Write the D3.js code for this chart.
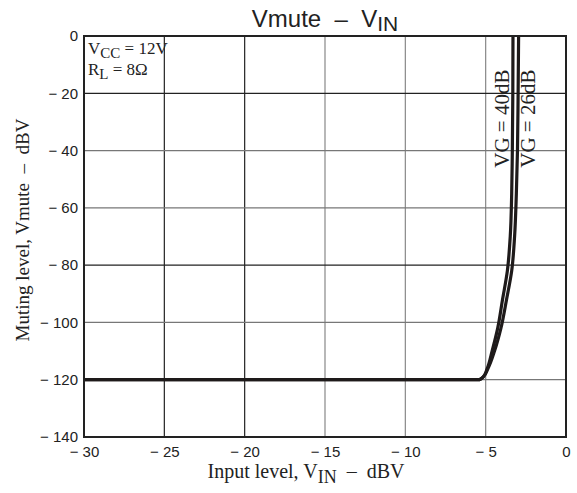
<!DOCTYPE html>
<html>
<head>
<meta charset="utf-8">
<script src="https://cdn.jsdelivr.net/npm/d3@7"></script>
<style>
body { margin: 0; background: #fff; }
svg { display: block; }
text { white-space: pre; }
</style>
</head>
<body>
<svg id="chart" width="577" height="493"></svg>
<script>
(function(){

	// input level (dBV) and muting level (dBV)
	var vin40 = [-30, -5.4, -5.15, -4.9, -4.6, -4.25, -3.95, -3.65, -3.47, -3.38, -3.34, -3.31, -3.3];
	var vmute40 = [-120, -120, -119, -116, -110, -102, -92, -82, -70, -55, -40, -20, 0];
	var vin26 = [-30, -5.4, -5.15, -4.85, -4.45, -4.05, -3.7, -3.38, -3.2, -3.09, -3.02, -2.98, -2.95];
	var vmute26 = [-120, -120, -119, -116, -110, -102, -92, -82, -70, -55, -40, -20, 0];

	var xTicks = [-30, -25, -20, -15, -10, -5, 0];
	var yTicks = [0, -20, -40, -60, -80, -100, -120, -140];
	var darkX = [-25, -20];
	var darkY = [-20, -80];

	var margin = {top: 36, right: 11, bottom: 56, left: 84};
	var svg = d3.select("#chart");
	var width = +svg.attr("width") - margin.left - margin.right;
	var height = +svg.attr("height") - margin.top - margin.bottom;

	var x = d3.scaleLinear().domain([-30, 0]).range([0, width]);
	var y = d3.scaleLinear().domain([-140, 0]).range([height, 0]);

	var g = svg.append("g")
		.attr("transform", "translate(" + margin.left + "," + margin.top + ")");

	var fmt = function(d){
		return d < 0 ? "\u2212 " + Math.abs(d) : "" + d;
	};

	// grid
	g.selectAll(".vgrid")
		.data(xTicks.slice(1, -1))
		.enter().append("line")
			.attr("x1", function(d){ return x(d); })
			.attr("x2", function(d){ return x(d); })
			.attr("y1", 0)
			.attr("y2", height)
			.attr("stroke", function(d){ return darkX.indexOf(d) >= 0 ? "#222" : "#888"; })
			.attr("stroke-width", 1.2);

	g.selectAll(".hgrid")
		.data(yTicks.slice(1, -1))
		.enter().append("line")
			.attr("x1", 0)
			.attr("x2", width)
			.attr("y1", function(d){ return y(d); })
			.attr("y2", function(d){ return y(d); })
			.attr("stroke", function(d){ return darkY.indexOf(d) >= 0 ? "#222" : "#777"; })
			.attr("stroke-width", 1.2);

	// axes (labels only, frame drawn below)
	var xAxis = g.append("g")
		.attr("transform", "translate(0," + height + ")")
		.call(d3.axisBottom(x).tickValues(xTicks).tickSize(0).tickPadding(9).tickFormat(fmt));
	var yAxis = g.append("g")
		.call(d3.axisLeft(y).tickValues(yTicks).tickSize(0).tickPadding(6).tickFormat(fmt));
	[xAxis, yAxis].forEach(function(a){
		a.select(".domain").remove();
		a.selectAll("text")
			.attr("font-family", "'Liberation Sans', Arial, sans-serif")
			.attr("font-size", 15)
			.attr("fill", "#222");
	});

	// curves
	var line = d3.line()
		.x(function(d){ return x(d[0]); })
		.y(function(d){ return y(d[1]); })
		.curve(d3.curveMonotoneY);

	var series = [d3.zip(vin40, vmute40), d3.zip(vin26, vmute26)];
	g.selectAll(".curve")
		.data(series)
		.enter().append("path")
			.attr("d", line)
			.attr("fill", "none")
			.attr("stroke", "#1e1a1a")
			.attr("stroke-width", 3.2)
			.attr("stroke-linejoin", "round");

	// frame
	g.append("rect")
		.attr("width", width)
		.attr("height", height)
		.attr("fill", "none")
		.attr("stroke", "#222")
		.attr("stroke-width", 2);

	var serif = "'Liberation Serif', 'Times New Roman', serif";

	// conditions
	var vcc = g.append("text")
		.attr("x", 4).attr("y", 18)
		.attr("font-family", serif).attr("font-size", 17).attr("fill", "#222");
	vcc.append("tspan").text("V");
	vcc.append("tspan").attr("dy", 4).attr("font-size", 15).text("CC");
	vcc.append("tspan").attr("dy", -4).text(" = 12V");

	var rl = g.append("text")
		.attr("x", 4).attr("y", 39)
		.attr("font-family", serif).attr("font-size", 17).attr("fill", "#222");
	rl.append("tspan").text("R");
	rl.append("tspan").attr("dy", 4).attr("font-size", 15).text("L");
	rl.append("tspan").attr("dy", -4).text(" = 8\u03A9");

	// curve labels
	var labels = [{t: "VG = 40dB", v: -3.9}, {t: "VG = 26dB", v: -2.3}];
	g.selectAll(".clabel")
		.data(labels)
		.enter().append("text")
			.attr("transform", function(d){ return "translate(" + (x(d.v) + 6) + "," + y(-46) + ") rotate(-90)"; })
			.attr("font-family", serif)
			.attr("font-size", 21)
			.attr("fill", "#222")
			.text(function(d){ return d.t; });

	// title
	var title = svg.append("text")
		.attr("x", margin.left + width / 2)
		.attr("y", 27)
		.attr("text-anchor", "middle")
		.attr("font-family", "'Liberation Sans', Arial, sans-serif")
		.attr("font-size", 24)
		.attr("fill", "#222");
	title.append("tspan").text("Vmute  \u2013  V");
	title.append("tspan").attr("dy", 4).attr("font-size", 21).text("IN");

	// axis titles
	var xt = svg.append("text")
		.attr("x", 306)
		.attr("y", 478)
		.attr("text-anchor", "middle")
		.attr("font-family", serif)
		.attr("font-size", 20)
		.attr("fill", "#222");
	xt.append("tspan").text("Input level, V");
	xt.append("tspan").attr("dy", 5).attr("font-size", 18).text("IN");
	xt.append("tspan").attr("dy", -5).text("  \u2013  dBV");

	svg.append("text")
		.attr("transform", "translate(29,230) rotate(-90)")
		.attr("text-anchor", "middle")
		.attr("font-family", serif)
		.attr("font-size", 19)
		.attr("fill", "#222")
		.text("Muting level, Vmute  \u2013  dBV");

})();
</script>
</body>
</html>
